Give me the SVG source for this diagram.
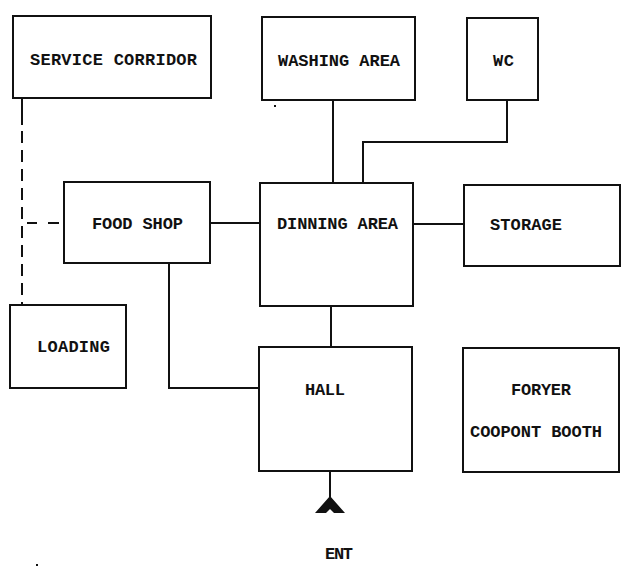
<svg xmlns="http://www.w3.org/2000/svg" width="626" height="571" viewBox="0 0 626 571">
<style>
.box{fill:#fff;stroke:#111;stroke-width:2}
.lbl{font-family:"Liberation Mono","DejaVu Sans Mono",monospace;font-weight:bold;font-size:17px;fill:#111}
.ln{fill:none;stroke:#111;stroke-width:2}
.dash{fill:none;stroke:#111;stroke-width:2;stroke-dasharray:12 7}
</style>
<rect width="626" height="571" fill="#fff"/>
<g id="connectors">
<path class="ln" d="M333,100 V183"/>
<path class="ln" d="M507,100 V142 H363 V183"/>
<path class="ln" d="M210,223 H260"/>
<path class="ln" d="M413,224 H464"/>
<path class="ln" d="M331,306 V347"/>
<path class="ln" d="M169,263 V388 H259"/>
<path class="ln" d="M22,98 V125"/>
<path class="dash" d="M22,131 V305"/>
<path class="ln" d="M27,223 H37 M48,223 H59"/>
<path class="ln" d="M330,471 V500"/>
<path d="M330,496 L345,513 L334,513 L330,509 L326,513 L315,513 Z" fill="#111"/>
</g>
<g id="service-corridor"><rect class="box" x="13" y="16" width="198" height="82"/><text class="lbl" x="30" y="65" textLength="167" lengthAdjust="spacing">SERVICE CORRIDOR</text></g>
<g id="washing-area"><rect class="box" x="262" y="17" width="153" height="83"/><text class="lbl" x="278" y="66" textLength="122" lengthAdjust="spacing">WASHING AREA</text></g>
<g id="wc"><rect class="box" x="467" y="18" width="71" height="82"/><text class="lbl" x="493" y="66" textLength="21" lengthAdjust="spacing">WC</text></g>
<g id="food-shop"><rect class="box" x="64" y="182" width="146" height="81"/><text class="lbl" x="92" y="229" textLength="91" lengthAdjust="spacing">FOOD SHOP</text></g>
<g id="dinning-area"><rect class="box" x="260" y="183" width="153" height="123"/><text class="lbl" x="277" y="229" textLength="121" lengthAdjust="spacing">DINNING AREA</text></g>
<g id="storage"><rect class="box" x="464" y="185" width="156" height="81"/><text class="lbl" x="490" y="230" textLength="72" lengthAdjust="spacing">STORAGE</text></g>
<g id="loading"><rect class="box" x="10" y="305" width="116" height="83"/><text class="lbl" x="37" y="352" textLength="73" lengthAdjust="spacing">LOADING</text></g>
<g id="hall"><rect class="box" x="259" y="347" width="153" height="124"/><text class="lbl" x="305" y="395" textLength="40" lengthAdjust="spacing">HALL</text></g>
<g id="foryer"><rect class="box" x="463" y="348" width="156" height="124"/><text class="lbl" x="511" y="395" textLength="60" lengthAdjust="spacing">FORYER</text><text class="lbl" x="470" y="437" textLength="132" lengthAdjust="spacing">COOPONT BOOTH</text></g>
<g id="ent"><text class="lbl" x="325" y="559" textLength="28" lengthAdjust="spacing">ENT</text></g>
<rect x="274" y="105" width="2" height="2" fill="#111"/>
<rect x="36" y="564" width="2" height="2" fill="#111"/>
</svg>
